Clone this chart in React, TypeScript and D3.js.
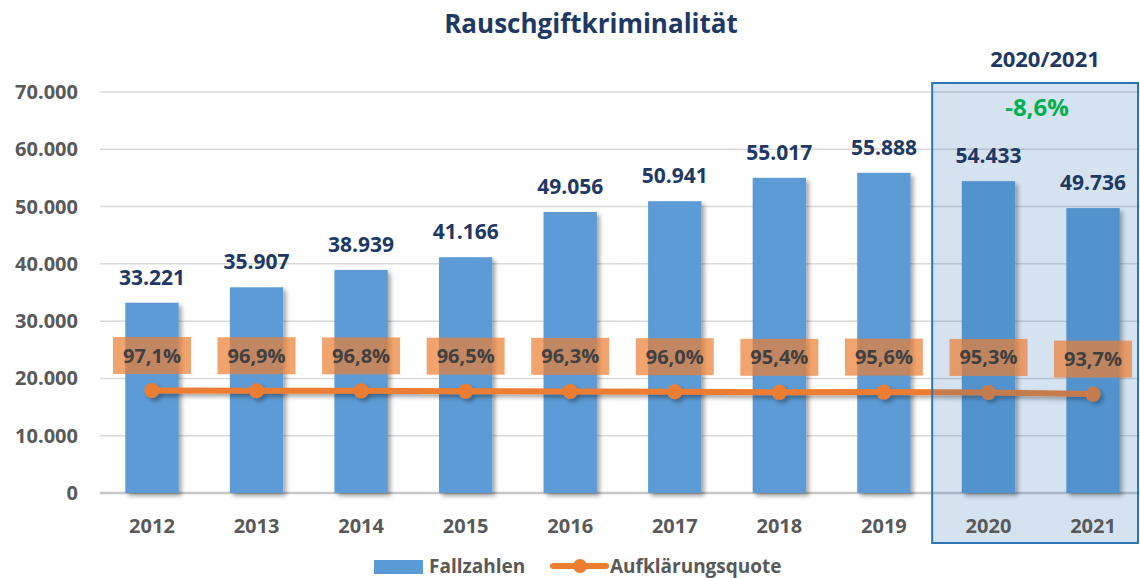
import React from "react";
import * as d3 from "d3";

const years = ["2012", "2013", "2014", "2015", "2016", "2017", "2018", "2019", "2020", "2021"];
const cases = [33221, 35907, 38939, 41166, 49056, 50941, 55017, 55888, 54433, 49736];
const clearance = [97.1, 96.9, 96.8, 96.5, 96.3, 96.0, 95.4, 95.6, 95.3, 93.7];
const yTicks = [0, 10000, 20000, 30000, 40000, 50000, 60000, 70000];
const highlightYears = ["2020", "2021"];
const highlightTitle = "2020/2021";
const highlightChange = "-8,6%";
const title = "Rauschgiftkriminalität";
const legendLabels = ["Fallzahlen", "Aufklärungsquote"];

const W = 1140;
const H = 578;
const FONT = "'Open Sans', 'Liberation Sans', sans-serif";
const NAVY = "#203864";
const GREY = "#595959";
const BLUE = "#5B9BD5";
const ORANGE = "#ED7D31";

const de = d3.formatLocale({ decimal: ",", thousands: ".", grouping: [3], currency: ["", "€"] });
const fmtInt = de.format(",");
const fmtPct = (v: number) => de.format(".1f")(v) + "%";

export default function App() {
  const x = d3.scaleBand<string>().domain(years).range([99.7, 1145.3]).paddingInner(0.49).paddingOuter(0.245);
  const y = d3.scaleLinear().domain([0, 70000]).range([493, 92]);
  const y2 = d3.scaleLinear().domain([0, 380]).range([493, 92]);
  const cx = (yr: string) => (x(yr) as number) + x.bandwidth() / 2;

  const line = d3
    .line<number>()
    .x((_, i) => cx(years[i]))
    .y((d) => y2(d));

  const hx0 = (x(highlightYears[0]) as number) - (x.step() - x.bandwidth()) / 2 - 4;
  const hx1 = 1138;

  return (
    <svg width={W} height={H} style={{ position: "absolute", left: 0, top: 0, background: "#fff" }} fontFamily={FONT}>
      <defs>
        <filter id="shadow" x="-20%" y="-20%" width="150%" height="150%">
          <feDropShadow dx="3" dy="3" stdDeviation="2" floodColor="#000" floodOpacity="0.35" />
        </filter>
      </defs>

      <text x={591} y={33} textAnchor="middle" fontWeight="bold" fontSize={26} fill={NAVY}>
        {title}
      </text>

      {/* gridlines */}
      {yTicks.map((t) => (
        <line
          key={t}
          x1={100}
          x2={1140}
          y1={y(t)}
          y2={y(t)}
          stroke={t === 0 ? "#C8C8C8" : "#D9D9D9"}
          strokeWidth={t === 0 ? 2.5 : 1.5}
        />
      ))}
      {yTicks.map((t) => (
        <text key={"l" + t} x={78} y={y(t) + 7} textAnchor="end" fontWeight="bold" fontSize={20} fill={GREY}>
          {fmtInt(t)}
        </text>
      ))}

      {/* bars */}
      <g filter="url(#shadow)">
        {years.map((yr, i) => (
          <rect key={yr} x={x(yr)} y={y(cases[i])} width={x.bandwidth()} height={y(0) - y(cases[i])} fill={BLUE} />
        ))}
      </g>

      {/* line */}
      <g filter="url(#shadow)">
        <path d={line(clearance) || ""} fill="none" stroke={ORANGE} strokeWidth={6} />
        {clearance.map((v, i) => (
          <circle key={i} cx={cx(years[i])} cy={y2(v)} r={7.5} fill={ORANGE} />
        ))}
      </g>

      {/* highlight overlay */}
      <rect x={hx0} y={83} width={hx1 - hx0} height={460} fill="#2E75B6" fillOpacity={0.2} stroke="#2E75B6" strokeWidth={2} />

      {/* percent labels */}
      {clearance.map((v, i) => (
        <g key={"p" + i}>
          <rect x={cx(years[i]) - 39} y={y2(v) - 35 - 18.5} width={78} height={37} fill={ORANGE} fillOpacity={0.7} />
          <text x={cx(years[i])} y={y2(v) - 35 + 7} textAnchor="middle" fontWeight="bold" fontSize={20} fill="#404040">
            {fmtPct(v)}
          </text>
        </g>
      ))}

      {/* value labels */}
      {years.map((yr, i) => (
        <text key={"v" + yr} x={cx(yr)} y={y(cases[i]) - 18} textAnchor="middle" fontWeight="bold" fontSize={21} fill={NAVY}>
          {fmtInt(cases[i])}
        </text>
      ))}

      {/* x labels */}
      {years.map((yr) => (
        <text key={"x" + yr} x={cx(yr)} y={533} textAnchor="middle" fontWeight="bold" fontSize={20} fill={GREY}>
          {yr}
        </text>
      ))}

      {/* highlight annotations */}
      <text x={1045} y={67} textAnchor="middle" fontWeight="bold" fontSize={22} fill={NAVY}>
        {highlightTitle}
      </text>
      <text x={1037} y={116} textAnchor="middle" fontWeight="bold" fontSize={24} fill="#00B050">
        {highlightChange}
      </text>

      {/* legend */}
      <rect x={374} y={560} width={49} height={14} fill={BLUE} />
      <text x={429} y={573} fontWeight="bold" fontSize={19} fill={GREY}>
        {legendLabels[0]}
      </text>
      <line x1={553} x2={606} y1={566} y2={566} stroke={ORANGE} strokeWidth={6} strokeLinecap="round" />
      <circle cx={580} cy={566} r={7} fill={ORANGE} />
      <text x={610} y={573} fontWeight="bold" fontSize={19} fill={GREY}>
        {legendLabels[1]}
      </text>
    </svg>
  );
}
